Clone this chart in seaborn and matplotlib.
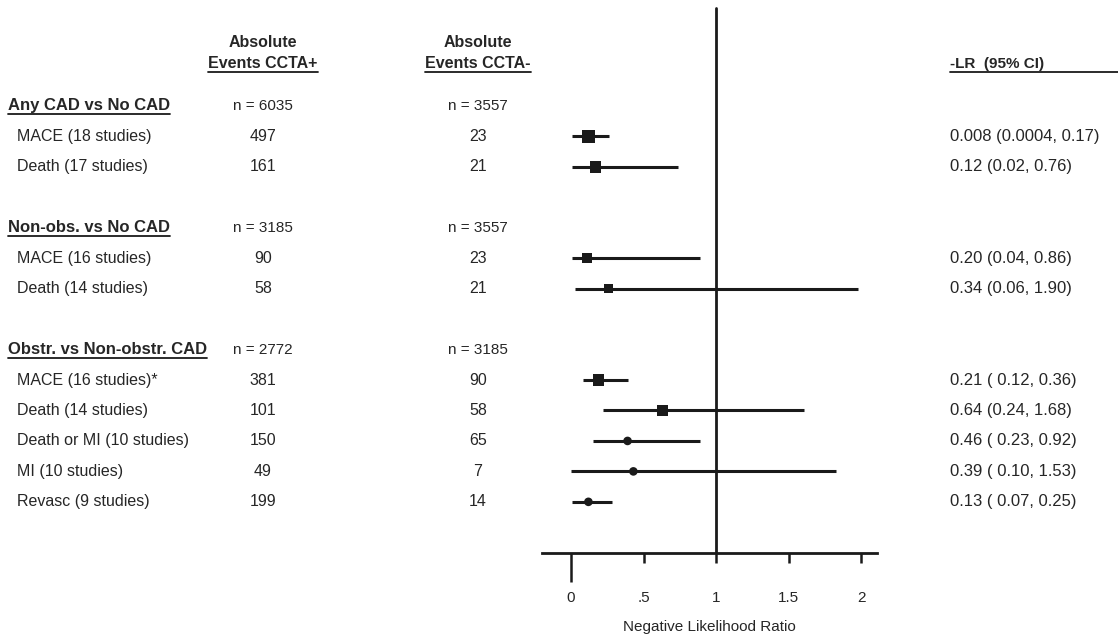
import numpy as np
import pandas as pd
import seaborn as sns
import matplotlib.pyplot as plt
from matplotlib.lines import Line2D
from matplotlib.transforms import blended_transform_factory

# values
groups = ["Any CAD vs No CAD", "Non-obs. vs No CAD", "Obstr. vs Non-obstr. CAD"]
n_pos = ["n = 6035", "n = 3185", "n = 2772"]
n_neg = ["n = 3557", "n = 3557", "n = 3185"]

outcomes = ["MACE (18 studies)", "Death (17 studies)",
            "MACE (16 studies)", "Death (14 studies)",
            "MACE (16 studies)*", "Death (14 studies)", "Death or MI (10 studies)",
            "MI (10 studies)", "Revasc (9 studies)"]
group_of = [0, 0, 1, 1, 2, 2, 2, 2, 2]
events_pos = [497, 161, 90, 58, 381, 101, 150, 49, 199]
events_neg = [23, 21, 23, 21, 90, 58, 65, 7, 14]
ci_text = ["0.008 (0.0004, 0.17)", "0.12 (0.02, 0.76)",
           "0.20 (0.04, 0.86)", "0.34 (0.06, 1.90)",
           "0.21 ( 0.12, 0.36)", "0.64 (0.24, 1.68)", "0.46 ( 0.23, 0.92)",
           "0.39 ( 0.10, 1.53)", "0.13 ( 0.07, 0.25)"]

# plotted positions (as drawn in the picture)
lr_est = [0.12, 0.17, 0.11, 0.26, 0.19, 0.63, 0.39, 0.43, 0.12]
lr_lo = [0.01, 0.01, 0.01, 0.03, 0.08, 0.22, 0.15, 0.0, 0.01]
lr_hi = [0.26, 0.74, 0.89, 1.98, 0.39, 1.61, 0.89, 1.83, 0.28]

# marker look per row
marker_shape = ["square"] * 6 + ["circle"] * 3
marker_side = [9.0, 8.4, 7.4, 6.8, 8.4, 8.4, 6.2, 6.2, 6.2]

sns.set_theme(style="white")
plt.rcParams["font.family"] = ["Liberation Sans", "DejaVu Sans"]
ink = "#1a1a1a"
txt = "#262626"

W, H = 1118, 634
fig = plt.figure(figsize=(W / 100, H / 100), dpi=100)
ax = fig.add_axes([542 / W, 1 - 553 / H, 335 / W, 553 / H])

# row slots: header, outcomes, blank line between groups
header_slot, outcome_slot = [], []
slot = 0
for g in range(len(groups)):
    header_slot.append(slot)
    slot += 1
    for i in range(len(outcomes)):
        if group_of[i] == g:
            outcome_slot.append(slot)
            slot += 1
    slot += 1

df = pd.DataFrame({"slot": outcome_slot, "est": lr_est, "lo": lr_lo, "hi": lr_hi,
                   "shape": marker_shape})

ax.hlines(df["slot"], df["lo"], df["hi"], color=ink, lw=2.2, zorder=2)
sns.scatterplot(data=df, x="est", y="slot", style="shape",
                markers={"square": "s", "circle": "o"},
                size="slot", sizes={s: m ** 2 for s, m in zip(outcome_slot, marker_side)},
                color=ink, edgecolor=ink, linewidth=0, legend=False, ax=ax, zorder=3)
ax.axvline(1, ymin=0, ymax=(553 - 8) / 553, color=ink, lw=2, zorder=1)

ax.set_xlim(-0.2, 2.11)
ax.set_ylim(14.68, -3.48)
sns.despine(ax=ax, left=True)
ax.spines["bottom"].set_linewidth(2)
ax.spines["bottom"].set_color(ink)
ax.set_yticks([])
ax.set_ylabel("")
ax.set_xticks([0, 0.5, 1, 1.5, 2])
ax.set_xticklabels(["0", ".5", "1", "1.5", "2"])
ax.tick_params(axis="x", direction="out", length=7, width=1.8, pad=20,
               labelsize=11, color=ink, labelcolor=txt, bottom=True)
ax.xaxis.get_major_ticks()[0].tick1line.set_markersize(21)
ax.set_xlabel("Negative Likelihood Ratio", fontsize=11, labelpad=11, color=txt)

# text columns
tr = blended_transform_factory(fig.transFigure, ax.transData)
fs = 11.5
under = []
x_grp, x_out, x_c1, x_c2, x_ci = 8 / W, 17 / W, 263 / W, 478 / W, 950 / W

for x, l2 in [(x_c1, "Events CCTA+"), (x_c2, "Events CCTA-")]:
    ax.text(x, -2.07, "Absolute", transform=tr, ha="center", va="center",
            fontsize=fs, fontweight="bold", color=txt)
    under.append(ax.text(x, -1.38, l2, transform=tr, ha="center", va="center",
                         fontsize=fs, fontweight="bold", color=txt))
lr_head = ax.text(x_ci, -1.38, "-LR  (95% CI)", transform=tr, ha="left", va="center",
                  fontsize=fs - 0.5, fontweight="bold", color=txt)

for g, s in enumerate(header_slot):
    under.append(ax.text(x_grp, s, groups[g], transform=tr, ha="left", va="center",
                         fontsize=fs + 0.5, fontweight="bold", color=txt))
    ax.text(x_c1, s, n_pos[g], transform=tr, ha="center", va="center", fontsize=fs - 0.5, color=txt)
    ax.text(x_c2, s, n_neg[g], transform=tr, ha="center", va="center", fontsize=fs - 0.5, color=txt)

for i, s in enumerate(outcome_slot):
    ax.text(x_out, s, outcomes[i], transform=tr, ha="left", va="center", fontsize=fs, color=txt)
    ax.text(x_c1, s, str(events_pos[i]), transform=tr, ha="center", va="center", fontsize=fs, color=txt)
    ax.text(x_c2, s, str(events_neg[i]), transform=tr, ha="center", va="center", fontsize=fs, color=txt)
    ax.text(x_ci, s, ci_text[i], transform=tr, ha="left", va="center", fontsize=fs + 0.5, color=txt)

# underlines under headers
fig.canvas.draw()
rend = fig.canvas.get_renderer()
inv = fig.transFigure.inverted()
for t in under:
    bb = t.get_window_extent(rend)
    (x0, y0), (x1, _) = inv.transform([(bb.x0, bb.y0 - 1), (bb.x1, bb.y0)])
    fig.add_artist(Line2D([x0, x1], [y0, y0], color=ink, lw=1.3))
bb = lr_head.get_window_extent(rend)
(x0, y0), _ = inv.transform([(bb.x0, bb.y0 - 1), (bb.x1, bb.y0)])
fig.add_artist(Line2D([x0, 1.0], [y0, y0], color=ink, lw=1.3))

fig.savefig("out.png", dpi=100, facecolor="white")
